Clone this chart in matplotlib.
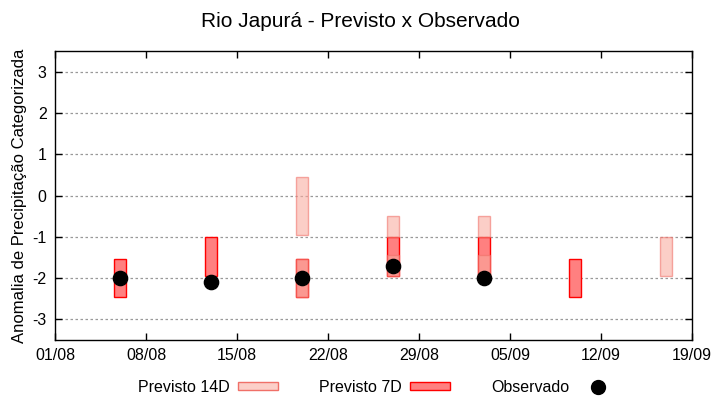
import datetime as dt

import matplotlib
matplotlib.use("Agg")
import matplotlib.dates as mdates
import matplotlib.pyplot as plt
from matplotlib.lines import Line2D
from matplotlib.patches import Patch

plt.rcParams["font.family"] = ["Liberation Sans", "DejaVu Sans"]

# caixas previsao 7 dias: data, limite inferior, limite superior
datas_7d = ["2024-08-06", "2024-08-13", "2024-08-20", "2024-08-27", "2024-09-03", "2024-09-10"]
inf_7d = [-2.45, -1.95, -2.45, -1.95, -1.95, -2.45]
sup_7d = [-1.55, -1.0, -1.55, -1.0, -1.0, -1.55]

# caixas previsao 14 dias (desenhadas por cima, transparentes)
datas_14d = ["2024-08-20", "2024-08-20", "2024-08-27", "2024-08-27",
             "2024-09-03", "2024-09-03", "2024-09-17"]
inf_14d = [-0.95, -2.45, -1.0, -1.95, -1.0, -1.95, -1.95]
sup_14d = [0.45, -1.55, -0.5, -1.45, -0.5, -1.45, -1.0]

# observado
datas_obs = ["2024-08-06", "2024-08-13", "2024-08-20", "2024-08-27", "2024-09-03"]
valores_obs = [-2.0, -2.1, -2.0, -1.7, -2.0]

ticks_x = ["01/08", "08/08", "15/08", "22/08", "29/08", "05/09", "12/09", "19/09"]
ticks_y = [-3, -2, -1, 0, 1, 2, 3]

COR_7D = "#ff8080"
COR_14D = "#f9ab9f"


def para_data(s):
    return mdates.date2num(dt.datetime.strptime(s, "%Y-%m-%d"))


fig = plt.figure(figsize=(7.2, 4.0), dpi=100)
ax = fig.add_axes([0.0764, 0.15, 0.8847, 0.7225])

largura = 0.9
for d, lo, hi in zip(datas_7d, inf_7d, sup_7d):
    x = para_data(d)
    ax.bar(x, hi - lo, bottom=lo, width=largura, color=COR_7D,
           edgecolor="red", linewidth=1.0, zorder=2)

for d, lo, hi in zip(datas_14d, inf_14d, sup_14d):
    x = para_data(d)
    ax.bar(x, hi - lo, bottom=lo, width=largura, color=COR_14D, alpha=0.58,
           edgecolor="#f07068", linewidth=1.0, zorder=3)

ax.scatter([para_data(d) for d in datas_obs], valores_obs, s=105,
           color="black", zorder=4)

inicio = para_data("2024-08-01")
ax.set_xlim(inicio, inicio + 49)
ax.set_xticks([inicio + 7 * i for i in range(len(ticks_x))])
ax.set_xticklabels(ticks_x)
ax.set_ylim(-3.5, 3.5)
ax.set_yticks(ticks_y)
ax.set_yticklabels([str(v) for v in ticks_y])

ax.grid(axis="y", color="#999999", linestyle=(0, (2, 2)), linewidth=0.9)
ax.set_axisbelow(True)
ax.tick_params(direction="in", top=True, right=True, labelsize=11.5,
               length=5, width=1, colors="black", pad=6)
for lado in ax.spines.values():
    lado.set_linewidth(1)

ax.set_ylabel("Anomalia de Precipitação Categorizada", fontsize=12, labelpad=4)
fig.suptitle("Rio Japurá - Previsto x Observado", fontsize=15, y=0.97)

alcas = [
    Patch(facecolor="#fccfc8", edgecolor="#f07068", label="Previsto 14D"),
    Patch(facecolor=COR_7D, edgecolor="red", label="Previsto 7D"),
    Line2D([], [], marker="o", linestyle="none", color="black",
           markersize=10, label="Observado"),
]
fig.legend(handles=alcas, loc="center", bbox_to_anchor=(0.525, 0.032), ncol=3,
           frameon=False, markerfirst=False, fontsize=11.5, handlelength=2.5,
           handleheight=0.45, columnspacing=2.6, handletextpad=0.5)

fig.savefig("out.png", dpi=100)
